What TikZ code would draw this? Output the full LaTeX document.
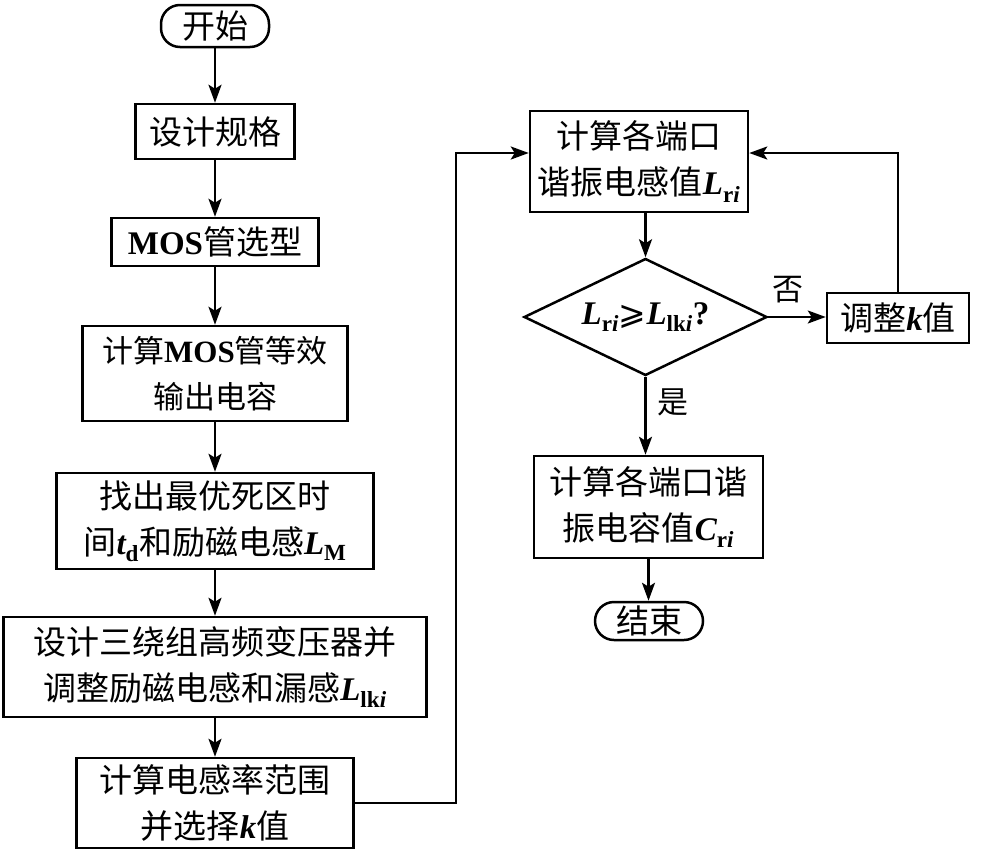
\documentclass[tikz,border=0pt]{standalone}
\usepackage{fontspec}
\setmainfont{Noto Sans CJK SC}
\newfontfamily\tnr{Liberation Serif}
\newfontfamily\djv{DejaVu Sans}
\usetikzlibrary{arrows.meta,shapes.geometric,calc}
\newcommand\mt[1]{{\tnr\bfseries #1}}
\newcommand\mi[1]{{\tnr\bfseries\itshape #1}}
\begin{document}
\begin{tikzpicture}[x=1pt,y=-1pt,
  box/.style={draw,line width=2.5pt,inner sep=0pt,align=center,font=\fontsize{33}{46}\selectfont},
  term/.style={box,rounded corners=19pt},
  arr/.style={line width=2.5pt,-{Stealth[length=18pt,width=13pt,inset=4pt]}},
  lbl/.style={font=\fontsize{31}{36}\selectfont,inner sep=0pt}]
\useasboundingbox (0,0) rectangle (998,852);
% left column
\node[term,minimum width=108pt,minimum height=42pt] (start) at (215,26) {开始};
\node[box,minimum width=159pt,minimum height=55pt] (spec) at (215,131.5) {设计规格};
\node[box,minimum width=207pt,minimum height=48pt] (mos) at (215,242) {\mt{MOS}管选型};
\node[box,minimum width=265pt,minimum height=95pt,font=\fontsize{31}{46}\selectfont] (cap) at (215,373.5) {计算\mt{MOS}管等效\\输出电容};
\node[box,minimum width=317pt,minimum height=96pt] (dead) at (215,521) {找出最优死区时\\间\mi{t}\textsubscript{\mt{d}}和励磁电感\mi{L}\textsubscript{\mt{M}}};
\node[box,minimum width=423pt,minimum height=100pt] (xfmr) at (215,667) {设计三绕组高频变压器并\\调整励磁电感和漏感\mi{L}\textsubscript{\mt{lk}\mi{i}}};
\node[box,minimum width=277pt,minimum height=90pt] (krange) at (215,803) {计算电感率范围\\并选择\mi{k}值};
% right column
\node[box,minimum width=218pt,minimum height=101pt] (lr) at (639,161.5) {计算各端口\\谐振电感值\mi{L}\textsubscript{\mt{r}\mi{i}}};
\node[draw,diamond,aspect=2.08,line width=2.5pt,inner sep=0pt,minimum width=243pt,minimum height=117pt,font=\fontsize{33}{40}\selectfont] (dia) at (645.5,317) {\mi{L}\textsubscript{\mt{r}\mi{i}}{\djv ⩾}\mi{L}\textsubscript{\mt{lk}\mi{i}}\mt{?}};
\node[box,minimum width=142pt,minimum height=50pt] (kadj) at (898,318) {调整\mi{k}值};
\node[box,minimum width=229pt,minimum height=102pt] (cr) at (648.5,507) {计算各端口谐\\振电容值\mi{C}\textsubscript{\mt{r}\mi{i}}};
\node[term,minimum width=108pt,minimum height=38pt] (fin) at (649,621) {结束};
\node[lbl] (no) at (788,290) {否};
\node[lbl] (yes) at (673,402) {是};
% connectors
\draw[arr] (start) -- (spec);
\draw[arr] (spec) -- (mos);
\draw[arr] (mos) -- (cap);
\draw[arr] (cap) -- (dead);
\draw[arr] (dead) -- (xfmr);
\draw[arr] (xfmr) -- (krange);
\coordinate (turn) at (456,153);
\draw[arr] (krange.east) -| (turn) -- (turn -| lr.west);
\draw[arr] (lr.south -| dia.north) -- (dia.north);
\draw[arr] (dia.east) -- (dia.east -| kadj.west);
\draw[arr] (kadj.north) |- (lr.east |- turn);
\draw[arr] (dia.south) -- (dia.south |- cr.north);
\draw[arr] (cr.south) -- (cr.south |- fin.north);
\end{tikzpicture}
\end{document}
